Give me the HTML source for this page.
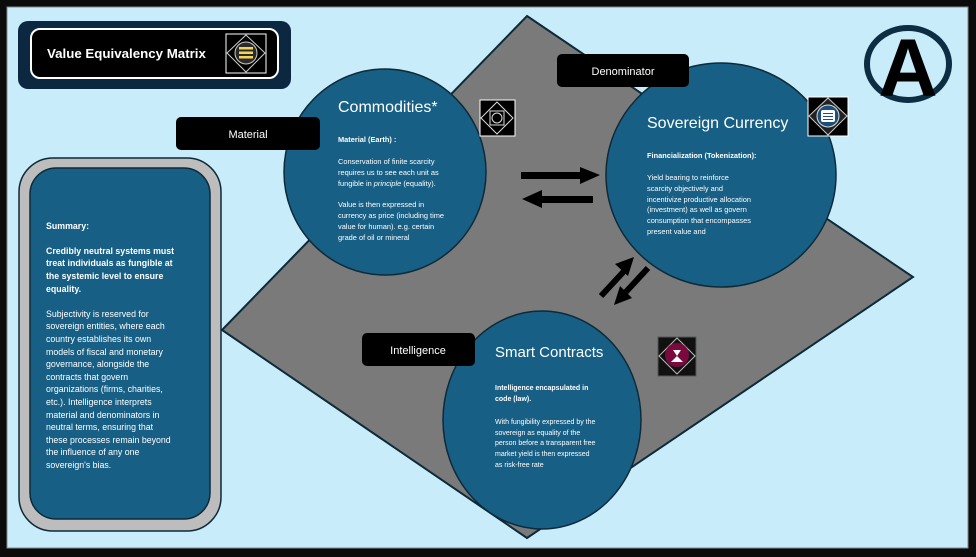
<!DOCTYPE html>
<html><head><meta charset="utf-8"><style>
body{margin:0;background:#0b0b0b;}
svg{display:block;font-family:"Liberation Sans",sans-serif;}
</style></head><body>
<svg width="976" height="557" viewBox="0 0 976 557" xmlns="http://www.w3.org/2000/svg">
<rect x="0" y="0" width="976" height="557" fill="#0b0b0b"/>
<rect x="7" y="7" width="961" height="541" fill="#c9ecfa" stroke="#888" stroke-width="1"/>
<polygon points="527,16 913,277 527,538 222,330" fill="#7a7a7a" stroke="#0e2a38" stroke-width="2"/>
<rect x="18" y="21" width="273" height="68" rx="10" fill="#0c2740"/>
<rect x="31" y="29" width="247" height="49" rx="9" fill="#000" stroke="#fff" stroke-width="2"/>
<text x="47" y="58" fill="#fff" font-size="13.3" font-weight="bold">Value Equivalency Matrix</text>
<rect x="226" y="34" width="40" height="39" fill="#000" stroke="#fff" stroke-width="1"/>
<polygon points="246,35 265,53 246,72 227,53" fill="none" stroke="#ccc" stroke-width="1"/>
<circle cx="246" cy="53" r="11" fill="#2a2a2a" stroke="#ccc" stroke-width="1"/>
<rect x="239" y="47" width="14" height="2.5" fill="#f3d35a"/><rect x="239" y="51.5" width="14" height="2.5" fill="#f3d35a"/><rect x="239" y="56" width="14" height="2.5" fill="#f3d35a"/>
<rect x="19" y="158" width="202" height="373" rx="34" fill="#bdbdbd" stroke="#0e2a38" stroke-width="1.5"/>
<rect x="30" y="168" width="180" height="351" rx="26" fill="#175f84" stroke="#0e2a38" stroke-width="1.5"/>
<g fill="#fff" font-size="8.8">
<text x="46" y="229" font-weight="bold">Summary:</text>
<text x="46" y="254" font-weight="bold">Credibly neutral systems must</text>
<text x="46" y="266" font-weight="bold">treat individuals as fungible at</text>
<text x="46" y="279" font-weight="bold">the systemic level to ensure</text>
<text x="46" y="292" font-weight="bold">equality.</text>
<text x="46" y="317">Subjectivity is reserved for</text>
<text x="46" y="329">sovereign entities, where each</text>
<text x="46" y="342">country establishes its own</text>
<text x="46" y="355">models of fiscal and monetary</text>
<text x="46" y="367">governance, alongside the</text>
<text x="46" y="380">contracts that govern</text>
<text x="46" y="392">organizations (firms, charities,</text>
<text x="46" y="405">etc.). Intelligence interprets</text>
<text x="46" y="418">material and denominators in</text>
<text x="46" y="430">neutral terms, ensuring that</text>
<text x="46" y="443">these processes remain beyond</text>
<text x="46" y="455">the influence of any one</text>
<text x="46" y="468">sovereign's bias.</text>
</g>
<ellipse cx="385" cy="172" rx="101" ry="103" fill="#175f84" stroke="#0e2a38" stroke-width="1.5"/>
<ellipse cx="721" cy="175" rx="115" ry="112" fill="#175f84" stroke="#0e2a38" stroke-width="1.5"/>
<ellipse cx="542" cy="420" rx="99" ry="109" fill="#175f84" stroke="#0e2a38" stroke-width="1.5"/>
<rect x="176" y="117" width="144" height="33" rx="5" fill="#000"/>
<text x="248" y="138" fill="#fff" font-size="11" text-anchor="middle">Material</text>
<rect x="557" y="54" width="132" height="33" rx="5" fill="#000"/>
<text x="623" y="75" fill="#fff" font-size="11" text-anchor="middle">Denominator</text>
<rect x="362" y="333" width="113" height="33" rx="5" fill="#000"/>
<text x="418" y="354" fill="#fff" font-size="11" text-anchor="middle">Intelligence</text>
<g fill="#fff">
<text x="338" y="112" font-size="16">Commodities*</text>
<g font-size="7.4">
<text x="338" y="142" font-weight="bold">Material (Earth) :</text>
<text x="338" y="164">Conservation of finite scarcity</text>
<text x="338" y="175">requires us to see each unit as</text>
<text x="338" y="186">fungible in <tspan font-style="italic">principle</tspan> (equality).</text>
<text x="338" y="207">Value is then expressed in</text>
<text x="338" y="218">currency as price (including time</text>
<text x="338" y="229">value for human). e.g. certain</text>
<text x="338" y="240">grade of oil or mineral</text>
</g>
<text x="647" y="128" font-size="16">Sovereign Currency</text>
<g font-size="7.4">
<text x="647" y="158" font-weight="bold">Financialization (Tokenization):</text>
<text x="647" y="180">Yield bearing to reinforce</text>
<text x="647" y="191">scarcity objectively and</text>
<text x="647" y="202">incentivize productive allocation</text>
<text x="647" y="212">(investment) as well as govern</text>
<text x="647" y="223">consumption that encompasses</text>
<text x="647" y="234">present value and</text>
</g>
<text x="495" y="357" font-size="15">Smart Contracts</text>
<g font-size="7">
<text x="495" y="390" font-weight="bold">Intelligence encapsulated in</text>
<text x="495" y="401" font-weight="bold">code (law).</text>
<text x="495" y="424">With fungibility expressed by the</text>
<text x="495" y="435">sovereign as equality of the</text>
<text x="495" y="445">person before a transparent free</text>
<text x="495" y="456">market yield is then expressed</text>
<text x="495" y="467">as risk-free rate</text>
</g>
</g>
<rect x="480" y="100" width="35" height="36" fill="#000" stroke="#fff" stroke-width="1"/>
<polygon points="497,102 513,118 497,134 481,118" fill="none" stroke="#ddd" stroke-width="1"/>
<rect x="490" y="111" width="14" height="14" fill="none" stroke="#ddd"/><circle cx="497" cy="118" r="5" fill="none" stroke="#ddd"/>
<rect x="808" y="97" width="40" height="39" fill="#000" stroke="#fff" stroke-width="1"/>
<polygon points="828,98 847,116 828,135 809,116" fill="#222" stroke="#ccc" stroke-width="1"/>
<circle cx="828" cy="116" r="11" fill="#1c4f7a" stroke="#ddd"/>
<rect x="821" y="110" width="14" height="12" rx="2" fill="#fff"/>
<rect x="823" y="113" width="10" height="1" fill="#1c4f7a"/><rect x="823" y="116" width="10" height="1" fill="#1c4f7a"/><rect x="823" y="119" width="10" height="1" fill="#1c4f7a"/>
<rect x="658" y="337" width="38" height="39" fill="#111" stroke="#555" stroke-width="1"/>
<polygon points="677,338 695,356 677,374 659,356" fill="none" stroke="#bbb"/>
<circle cx="677" cy="355" r="12" fill="#7a0a3e"/>
<polygon points="673,350 681,350 677,356" fill="#fff"/><polygon points="671,362 683,362 677,356" fill="#fff"/>
<ellipse cx="908" cy="64" rx="41" ry="36" fill="none" stroke="#0c2d42" stroke-width="6"/>
<text x="908" y="96" font-size="82" font-weight="bold" text-anchor="middle" fill="#000" font-family="Liberation Sans, sans-serif">A</text>
<g fill="#000">
<rect x="521" y="172" width="62" height="7"/><polygon points="580,167 600,175 580,184"/>
<rect x="541" y="196" width="52" height="7"/><polygon points="542,190 522,199 542,208"/>
</g>
<g stroke="#000" stroke-width="6" fill="none">
<line x1="601" y1="296" x2="627" y2="268"/>
<line x1="648" y1="268" x2="624" y2="294"/>
</g>
<polygon points="634,257 615,264 628,276" fill="#000"/>
<polygon points="614,305 632,298 620,286" fill="#000"/>
</svg>
</body></html>
